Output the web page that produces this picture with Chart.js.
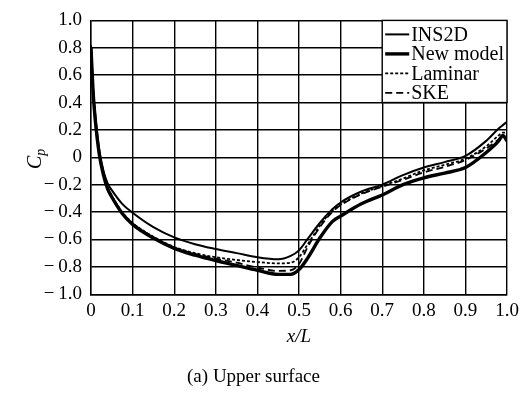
<!DOCTYPE html>
<html>
<head>
<meta charset="utf-8">
<script src="https://cdn.jsdelivr.net/npm/chart.js@4"></script>
<style>
  html, body { margin: 0; padding: 0; background: #fff; }
  #wrap { width: 528px; height: 394px; }
</style>
</head>
<body>
<div id="wrap"><canvas id="cpChart" width="528" height="394"></canvas></div>
<script>
// x/L stations shared by all four curves
const xStations = [0, 0.005, 0.01, 0.02, 0.03, 0.04, 0.05, 0.075, 0.1, 0.15, 0.2, 0.25, 0.3, 0.35, 0.4, 0.45, 0.48, 0.5, 0.52, 0.55, 0.58, 0.6, 0.65, 0.7, 0.75, 0.8, 0.85, 0.9, 0.95, 0.98, 0.99, 1.0];

const cpINS2D = [0.82, 0.5, 0.32, 0.05, -0.1, -0.19, -0.24, -0.34, -0.405, -0.51, -0.585, -0.635, -0.67, -0.70, -0.73, -0.745, -0.72, -0.68, -0.6, -0.48, -0.38, -0.33, -0.25, -0.2, -0.13, -0.075, -0.035, 0.01, 0.12, 0.21, 0.235, 0.26];
const cpNewModel = [0.8, 0.48, 0.28, 0.02, -0.13, -0.23, -0.29, -0.41, -0.49, -0.59, -0.665, -0.715, -0.755, -0.79, -0.825, -0.855, -0.855, -0.82, -0.74, -0.59, -0.47, -0.43, -0.34, -0.275, -0.2, -0.15, -0.115, -0.075, 0.035, 0.12, 0.16, 0.12];
const cpLaminar = [0.82, 0.5, 0.3, 0.03, -0.12, -0.22, -0.28, -0.40, -0.48, -0.58, -0.655, -0.70, -0.73, -0.75, -0.765, -0.775, -0.77, -0.73, -0.64, -0.50, -0.39, -0.345, -0.265, -0.21, -0.155, -0.095, -0.055, -0.01, 0.08, 0.16, 0.18, 0.18];
const cpSKE = [0.8, 0.49, 0.29, 0.02, -0.125, -0.225, -0.285, -0.405, -0.485, -0.585, -0.66, -0.705, -0.74, -0.77, -0.805, -0.83, -0.825, -0.78, -0.66, -0.51, -0.40, -0.35, -0.27, -0.215, -0.165, -0.11, -0.07, -0.02, 0.065, 0.13, 0.15, 0.15];

const seriesNames = ['INS2D', 'New model', 'Laminar', 'SKE'];
const xTickStep = 0.1;
const yTickStep = 0.2;

const SERIF = '"Liberation Serif", "Times New Roman", serif';

function pts(ys) {
  return xStations.map((x, i) => ({ x: x, y: ys[i] }));
}

const lineStyles = [
  { width: 2, dash: [] },
  { width: 3.4, dash: [] },
  { width: 1.8, dash: [3, 2] },
  { width: 1.8, dash: [7, 4] }
];

const datasets = [cpINS2D, cpNewModel, cpLaminar, cpSKE].map((ys, i) => ({
  label: seriesNames[i],
  data: pts(ys),
  borderColor: '#000',
  borderWidth: lineStyles[i].width,
  borderDash: lineStyles[i].dash,
  pointRadius: 0,
  fill: false,
  cubicInterpolationMode: 'monotone'
}));

function fmt(v) {
  if (Math.abs(v) < 1e-9) return '0';
  const s = Math.abs(v).toFixed(1);
  return v < 0 ? '\u2212\u2009' + s : s;
}

// legend box drawn inside the top-right grid cells
const legendBox = {
  id: 'legendBox',
  afterDatasetsDraw(chart) {
    const { ctx, scales: { x, y } } = chart;
    const l = x.getPixelForValue(0.7), r = x.getPixelForValue(1);
    const t = y.getPixelForValue(1), b = y.getPixelForValue(0.4);
    ctx.save();
    ctx.fillStyle = '#fff';
    ctx.fillRect(l, t, r - l, b - t);
    ctx.strokeStyle = '#000';
    ctx.lineWidth = 1.4;
    ctx.strokeRect(l, t, r - l, b - t);
    ctx.font = '20px ' + SERIF;
    ctx.fillStyle = '#000';
    ctx.textBaseline = 'middle';
    seriesNames.forEach((name, i) => {
      const yy = t + 14 + i * 19.5;
      ctx.beginPath();
      ctx.lineWidth = lineStyles[i].width;
      ctx.setLineDash(lineStyles[i].dash);
      ctx.moveTo(l + 3, yy);
      ctx.lineTo(l + 27, yy);
      ctx.stroke();
      ctx.setLineDash([]);
      ctx.fillText(name, l + 29, yy + 1);
    });
    ctx.restore();
  }
};

// C_p axis title with subscript
const yTitle = {
  id: 'yTitle',
  afterDraw(chart) {
    const { ctx } = chart;
    ctx.save();
    ctx.translate(36, 160);
    ctx.rotate(-Math.PI / 2);
    ctx.fillStyle = '#000';
    ctx.textBaseline = 'middle';
    ctx.font = 'italic 20px ' + SERIF;
    const w = ctx.measureText('C').width;
    ctx.fillText('C', -9, 0);
    ctx.font = 'italic 14px ' + SERIF;
    ctx.fillText('p', -9 + w, 5);
    ctx.restore();
  }
};

new Chart(document.getElementById('cpChart'), {
  type: 'line',
  data: { datasets: datasets },
  plugins: [legendBox, yTitle],
  options: {
    responsive: false,
    animation: false,
    layout: { padding: { top: 9, right: 21, left: 0, bottom: 0 } },
    plugins: {
      legend: { display: false },
      tooltip: { enabled: false },
      title: {
        display: true,
        position: 'bottom',
        text: '(a) Upper surface',
        color: '#000',
        font: { family: SERIF, size: 19, weight: 'normal' },
        padding: { top: 0, bottom: 6 }
      }
    },
    scales: {
      x: {
        type: 'linear',
        min: 0,
        max: 1,
        afterFit(s) { s.height = 71; },
        ticks: {
          stepSize: xTickStep,
          padding: 5,
          color: '#000',
          maxRotation: 0,
          font: { family: SERIF, size: 19 },
          callback: v => fmt(v)
        },
        grid: { color: '#000', lineWidth: 1.4, drawTicks: false },
        border: { color: '#000', width: 1.4 },
        title: {
          display: true,
          text: 'x/L',
          color: '#000',
          font: { family: SERIF, size: 19, style: 'italic' },
          padding: { top: 0, bottom: 17 }
        }
      },
      y: {
        min: -1,
        max: 1,
        afterFit(s) { s.width = 91; },
        ticks: {
          stepSize: yTickStep,
          padding: 9,
          color: '#000',
          font: { family: SERIF, size: 19 },
          callback: v => fmt(v)
        },
        grid: { color: '#000', lineWidth: 1.4, drawTicks: false },
        border: { color: '#000', width: 1.4 }
      }
    }
  }
});
</script>
</body>
</html>
